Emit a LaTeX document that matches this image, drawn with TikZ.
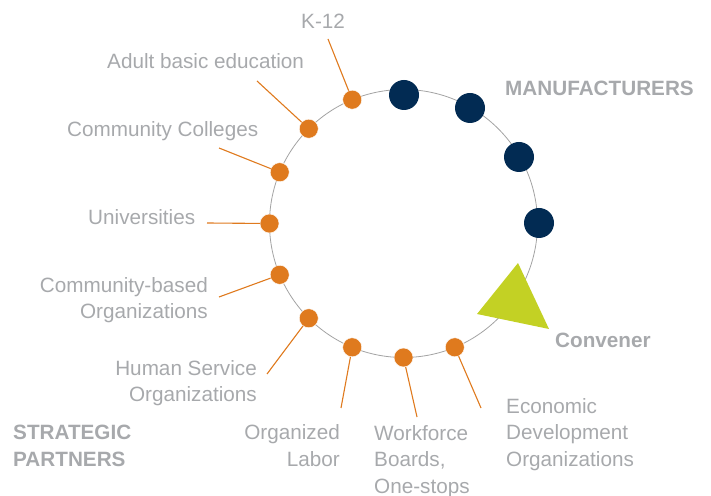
\documentclass[tikz,border=0pt]{standalone}
\usepackage{fontspec}
\setmainfont{Liberation Sans}
\usetikzlibrary{calc,positioning}

\definecolor{labelgray}{HTML}{A7A9AC}
\definecolor{partnerorange}{HTML}{DF7A1E}
\definecolor{makernavy}{HTML}{022B53}
\definecolor{convenerlime}{HTML}{C3D124}
\definecolor{ringgray}{HTML}{A3A3A3}

\begin{document}
\begin{tikzpicture}[
    x=1pt,y=1pt,
    partner/.style={circle,fill=partnerorange,draw=white,line width=0.4pt,inner sep=0pt,minimum size=19pt},
    maker/.style={circle,fill=makernavy,inner sep=0pt,minimum size=30pt},
    leader/.style={partnerorange,line width=1.1pt},
    lbl/.style={text=labelgray,inner sep=0pt,font=\fontsize{20.7}{26.5}\selectfont},
    head/.style={lbl,font=\fontsize{20.7}{26.5}\selectfont\bfseries}
    ]

    \useasboundingbox (0,0) rectangle (711,495);

    \coordinate (c) at (403.5,271.5);
    \draw[ringgray,line width=0.8pt] (c) circle[radius=134];

    \foreach \i/\x/\y in {1/404/400,2/470/387,3/519/338,4/539/272}
      \node (m\i) [maker] at (\x,\y) {};

    \foreach \i/\ex/\ey in {1/328/456,2/257/414,3/219/347,4/207/272,5/219/198,
                            6/267/121,7/341/87,8/417/78,9/481/87}
      {
      \pgfmathsetmacro\a{90+22.5*\i}
      \node (p\i) [partner] at ($(c)+(\a:134)$) {};
      \coordinate (e\i) at (\ex,\ey);
      }

    \foreach \i in {1,...,9}
      \draw[leader] (p\i) -- (e\i);

    \fill[convenerlime] (518,232) -- (477,181) -- (549,166) -- cycle;

    \node (k12) [lbl,anchor=base west] at (301,466) {K-12};
    \node (adult) [lbl,anchor=base west] at (107,426) {Adult basic education};
    \node (colleges) [lbl,anchor=base west] at (67,358) {Community Colleges};
    \node (univ) [lbl,anchor=base west] at (88,270) {Universities};
    \node (cbo) [lbl,align=right,anchor=base east] at (208,176) {Community-based\\Organizations};
    \node (hso) [lbl,align=right,anchor=base east] at (257,93) {Human Service\\Organizations};
    \node (labor) [lbl,align=right,anchor=base east] at (340,29) {Organized\\Labor};
    \node (wib) [lbl,align=left,anchor=base west] at (374,2) {Workforce\\Boards,\\One-stops};
    \node (econ) [lbl,align=left,anchor=base west] at (506,29) {Economic\\Development\\Organizations};

    \node (strategic) [head,align=left,anchor=base west] at (13,29) {STRATEGIC\\PARTNERS};
    \node (makers) [head,anchor=base west] at (505,399) {MANUFACTURERS};
    \node (convener) [head,anchor=base west] at (555,147) {Convener};

  \end{tikzpicture}
\end{document}
